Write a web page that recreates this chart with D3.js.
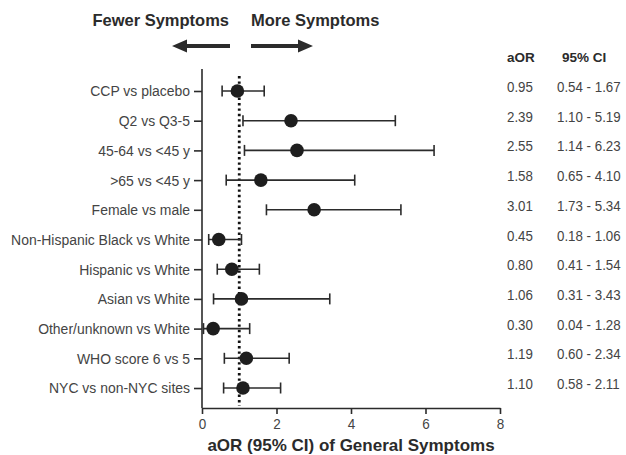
<!DOCTYPE html>
<html>
<head>
<meta charset="utf-8">
<script src="https://cdn.jsdelivr.net/npm/d3@7"></script>
<style>
  body { margin: 0; background: #fff; }
  svg { display: block; font-family: "Liberation Sans", Arial, sans-serif; }
</style>
</head>
<body>
<div id="chart"></div>
<script>
const labels = [
  "CCP vs placebo", "Q2 vs Q3-5", "45-64 vs <45 y", ">65 vs <45 y", "Female vs male",
  "Non-Hispanic Black vs White", "Hispanic vs White", "Asian vs White",
  "Other/unknown vs White", "WHO score 6 vs 5", "NYC vs non-NYC sites"
];
const aor = [0.95, 2.39, 2.55, 1.58, 3.01, 0.45, 0.80, 1.06, 0.30, 1.19, 1.10];
const ciLow = [0.54, 1.10, 1.14, 0.65, 1.73, 0.18, 0.41, 0.31, 0.04, 0.60, 0.58];
const ciHigh = [1.67, 5.19, 6.23, 4.10, 5.34, 1.06, 1.54, 3.43, 1.28, 2.34, 2.11];
const xTicks = [0, 2, 4, 6, 8];

const rows = labels.map((d, i) => ({ label: d, aor: aor[i], lo: ciLow[i], hi: ciHigh[i] }));

const W = 626, H = 455;
const SX = 0.9;   // text in the reference is a bit narrow
const SXT = 0.86; // table numbers are narrower still
const ink = "#2b2b2b", grey = "#444";

const svg = d3.select("#chart").append("svg").attr("width", W).attr("height", H);

const x = d3.scaleLinear().domain([0, 8]).range([202, 500]);
const y = d3.scalePoint().domain(labels).range([91, 388]);
const axisTop = 69, axisY = 408;

// reference line at 1
svg.append("line")
  .attr("x1", x(1)).attr("x2", x(1))
  .attr("y1", 76).attr("y2", 406)
  .attr("stroke", "#111").attr("stroke-width", 2.8)
  .attr("stroke-dasharray", "2.4 3");

// y axis
const yAxis = svg.append("g")
  .attr("transform", `translate(${x(0)},0)`)
  .call(d3.axisLeft(y).tickSize(8).tickPadding(4));
yAxis.select(".domain").remove();
yAxis.append("line").attr("x1", 0).attr("x2", 0).attr("y1", axisTop).attr("y2", axisY)
  .attr("stroke", ink).attr("stroke-width", 1.6);
yAxis.selectAll(".tick line").attr("stroke", ink).attr("stroke-width", 1.6);
yAxis.selectAll(".tick text")
  .attr("x", -12 / SX).attr("transform", `scale(${SX},1)`)
  .attr("font-size", 15.5).attr("font-family", "Liberation Sans, Arial, sans-serif")
  .attr("fill", grey);

// x axis
const xAxis = svg.append("g")
  .attr("transform", `translate(0,${axisY})`)
  .call(d3.axisBottom(x).tickValues(xTicks).tickSize(6).tickPadding(4).tickSizeOuter(0));
xAxis.select(".domain").attr("stroke", ink).attr("stroke-width", 1.6);
xAxis.selectAll(".tick line").attr("stroke", ink).attr("stroke-width", 1.6);
xAxis.selectAll(".tick text")
  .attr("transform", `scale(${SX},1)`)
  .attr("font-size", 15).attr("font-family", "Liberation Sans, Arial, sans-serif")
  .attr("fill", grey);

svg.append("text")
  .attr("x", x(4)).attr("y", 451)
  .attr("text-anchor", "middle")
  .attr("font-size", 17).attr("font-weight", "bold").attr("fill", ink)
  .text("aOR (95% CI) of General Symptoms");

// error bars
const bars = svg.append("g").selectAll("g").data(rows).join("g")
  .attr("transform", d => `translate(0,${y(d.label)})`);
bars.append("line")
  .attr("x1", d => x(d.lo)).attr("x2", d => x(d.hi))
  .attr("stroke", ink).attr("stroke-width", 1.6);
bars.append("line")
  .attr("x1", d => x(d.lo)).attr("x2", d => x(d.lo)).attr("y1", -5.5).attr("y2", 5.5)
  .attr("stroke", ink).attr("stroke-width", 1.6);
bars.append("line")
  .attr("x1", d => x(d.hi)).attr("x2", d => x(d.hi)).attr("y1", -5.5).attr("y2", 5.5)
  .attr("stroke", ink).attr("stroke-width", 1.6);
bars.append("circle")
  .attr("cx", d => x(d.aor)).attr("r", 6.8)
  .attr("fill", "#1e1e1e");

// table on the right
svg.append("text").attr("x", 507).attr("y", 62)
  .attr("font-size", 13.5).attr("font-weight", "bold").attr("fill", ink).text("aOR");
svg.append("text").attr("x", 562).attr("y", 62)
  .attr("font-size", 13.5).attr("font-weight", "bold").attr("fill", ink).text("95% CI");

const tbl = svg.append("g").selectAll("g").data(rows).join("g")
  .attr("transform", d => `translate(0,${y(d.label) + 1})`);
tbl.append("text")
  .attr("transform", `translate(507,0) scale(${SXT},1)`)
  .attr("font-size", 15.5).attr("fill", grey)
  .text(d => d.aor.toFixed(2));
tbl.append("text")
  .attr("transform", `translate(557,0) scale(${SXT},1)`)
  .attr("font-size", 15.5).attr("fill", grey)
  .text(d => `${d.lo.toFixed(2)} - ${d.hi.toFixed(2)}`);

// direction header
svg.append("text").attr("x", 229).attr("y", 26).attr("text-anchor", "end")
  .attr("font-size", 16.5).attr("font-weight", "bold").attr("fill", ink).text("Fewer Symptoms");
svg.append("text").attr("x", 251).attr("y", 26)
  .attr("font-size", 16.5).attr("font-weight", "bold").attr("fill", ink).text("More Symptoms");

const arrowY = 46;
svg.append("path")
  .attr("d", `M172,${arrowY} L187,${arrowY - 6.5} L187,${arrowY - 2} L230,${arrowY - 2} L230,${arrowY + 2} L187,${arrowY + 2} L187,${arrowY + 6.5} Z`)
  .attr("fill", ink);
svg.append("path")
  .attr("d", `M313,${arrowY} L298,${arrowY - 6.5} L298,${arrowY - 2} L251,${arrowY - 2} L251,${arrowY + 2} L298,${arrowY + 2} L298,${arrowY + 6.5} Z`)
  .attr("fill", ink);
</script>
</body>
</html>
